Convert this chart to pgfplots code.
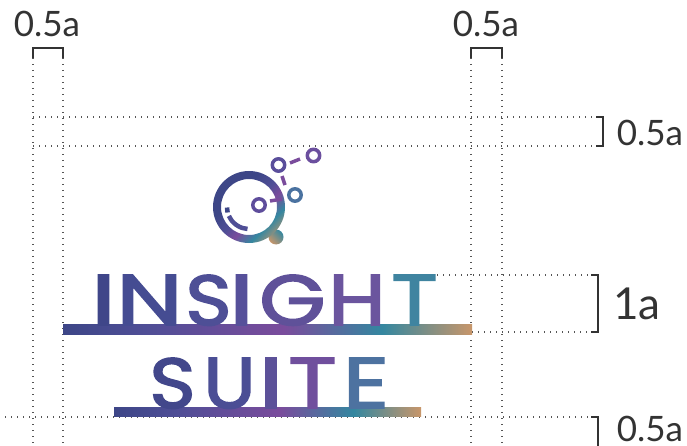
\documentclass[border=0pt]{standalone}
\usepackage{pgfplots}
\pgfplotsset{compat=1.18}
\usepackage{fontspec}
\setmainfont{Lato}
\newfontfamily\pop{Poppins}[FakeBold=2.5]
\definecolor{ink}{HTML}{333333}
\definecolor{dots}{HTML}{555555}
\definecolor{lgA}{HTML}{3D4687}
\definecolor{lgA2}{HTML}{4F4E96}
\definecolor{lgB}{HTML}{7A4C9C}
\definecolor{lgC}{HTML}{3487A0}
\definecolor{lgD}{HTML}{C8966A}
\pgfdeclarehorizontalshading{logobar}{100bp}{color(0bp)=(lgA); color(25bp)=(lgA); color(35bp)=(lgA2); color(52bp)=(lgB); color(64bp)=(lgC); color(75bp)=(lgD); color(100bp)=(lgD)}
\pgfdeclarehorizontalshading{logoring}{100bp}{color(0bp)=(lgA); color(38bp)=(lgA); color(50bp)=(lgA2); color(58bp)=(lgB); color(68bp)=(lgC); color(80bp)=(lgD); color(100bp)=(lgD)}
% letter of the logo: colour, box width, letter
\newcommand{\LG}[3]{{\color[HTML]{#1}\resizebox{#2pt}{50pt}{\pop #3}}}
\newcommand{\LI}[1]{{\color[HTML]{#1}\scalebox{1.4}[1]{\resizebox{!}{50pt}{\pop I}}}}
\tikzset{
  guide/.style={color=dots, line width=1.1pt, dash pattern=on 1.1pt off 4.9pt},
  brk/.style={color=ink, line width=1.3pt},
  lg/.style={anchor=base, inner sep=0pt},
  lab/.style={text=ink, inner sep=0pt, font=\fontsize{35}{35}\selectfont}
}
\begin{document}
\begin{tikzpicture}
\useasboundingbox (0,0) rectangle (687pt,446pt);
\clip (0,0) rectangle (687pt,446pt);
\begin{axis}[scale only axis, width=687pt, height=446pt,
  xmin=0, xmax=687, ymin=0, ymax=446, y dir=reverse,
  hide axis, clip=false]
% dotted guides
\addplot[guide, forget plot] coordinates {(33,58) (33,446)};
\addplot[guide, forget plot] coordinates {(63,58) (63,446)};
\addplot[guide, forget plot] coordinates {(471,58) (471,446)};
\addplot[guide, forget plot] coordinates {(502,58) (502,446)};
\addplot[guide, forget plot] coordinates {(33,117) (596,117)};
\addplot[guide, forget plot] coordinates {(33,146) (596,146)};
\addplot[guide, forget plot] coordinates {(437,275) (591,275)};
\addplot[guide, forget plot] coordinates {(472,332) (591,332)};
\addplot[guide, forget plot] coordinates {(5,417) (591,417)};
% brackets
\addplot[brk, forget plot] coordinates {(33,58) (33,48) (63,48) (63,58)};
\addplot[brk, forget plot] coordinates {(471,58) (471,48) (502,48) (502,58)};
\addplot[brk, forget plot] coordinates {(596,117) (603,117) (603,146) (596,146)};
\addplot[brk, forget plot] coordinates {(591,275) (598,275) (598,332) (591,332)};
\addplot[brk, forget plot] coordinates {(591,417) (598,417) (598,446)};
% labels
\node[lab] at (axis cs:47,24) {0.5a};
\node[lab] at (axis cs:486,24) {0.5a};
\node[lab] at (axis cs:650,133) {0.5a};
\node[lab, font=\fontsize{44}{44}\selectfont] at (axis cs:637,304) {1a};
\node[lab] at (axis cs:650,429) {0.5a};
% logo: handle and ring
\shade[left color=lgC, right color=lgD, shading angle=-45] (axis cs:276,237) circle[radius=7.5];
\path[shade, shading=logoring, shading angle=-45, even odd rule] (axis cs:249,207) circle[radius=36] (axis cs:249,207) circle[radius=28];
% smile
\addplot[color=lgA, line width=4.5pt, forget plot] coordinates {(227.0,207.5) (227.6,212.5)};
\addplot[color=lgA2, line width=4.5pt, smooth, forget plot] coordinates {(228.9,215.9) (232.1,221.1) (236.4,225.0) (241.5,227.7) (247.5,228.9)};
% connectors
\addplot[color=lgB, line width=3.5pt, forget plot] coordinates {(290,163) (300,159)};
\addplot[color=lgB, line width=3.5pt, forget plot] coordinates {(282,176) (285,185)};
\addplot[color=lgB, line width=3.5pt, forget plot] coordinates {(270,201) (282,199)};
% small circles
\addplot[only marks, mark=o, mark size=6.2pt, mark options={line width=3.5pt, color={rgb,255:red,94;green,77;blue,155}}, forget plot] coordinates {(259,205)};
\addplot[only marks, mark=o, mark size=6.2pt, mark options={line width=3.5pt, color={rgb,255:red,90;green,78;blue,155}}, forget plot] coordinates {(278.5,165)};
\addplot[only marks, mark=o, mark size=6.2pt, mark options={line width=3.5pt, color={rgb,255:red,107;green,79;blue,158}}, forget plot] coordinates {(313.5,155.5)};
\addplot[only marks, mark=o, mark size=6.2pt, mark options={line width=3.5pt, color={rgb,255:red,74;green,114;blue,160}}, forget plot] coordinates {(295,195)};
% bars
\addplot[draw=none, shade, shading=logobar, forget plot] coordinates {(63,324) (472,324) (472,334) (63,334)} --cycle;
\addplot[draw=none, shade, shading=logobar, forget plot] coordinates {(114,407) (421,407) (421,416) (114,416)} --cycle;
% letters INSIGHT
\node[lg] at (axis cs:103.5,325) {\LI{3F4689}};
\node[lg] at (axis cs:149.5,325) {\LG{454C92}{66}{N}};
\node[lg] at (axis cs:208.5,325) {\LG{4E4F96}{46}{S}};
\node[lg] at (axis cs:241.5,325) {\LI{56509A}};
\node[lg] at (axis cs:292.5,325) {\LG{5F5199}{66}{G}};
\node[lg] at (axis cs:357,325) {\LG{6B559E}{57}{H}};
\node[lg] at (axis cs:414.5,325) {\LG{3F84A0}{46}{T}};
% letters SUITE
\node[lg] at (axis cs:172.5,408) {\LG{42478B}{46}{S}};
\node[lg] at (axis cs:229.5,408) {\LG{4B4E95}{52}{U}};
\node[lg] at (axis cs:271,408) {\LI{5C5199}};
\node[lg] at (axis cs:312.5,408) {\LG{704F9D}{48}{T}};
\node[lg] at (axis cs:366,408) {\LG{4D72A0}{46}{E}};
\end{axis}
\end{tikzpicture}
\end{document}
